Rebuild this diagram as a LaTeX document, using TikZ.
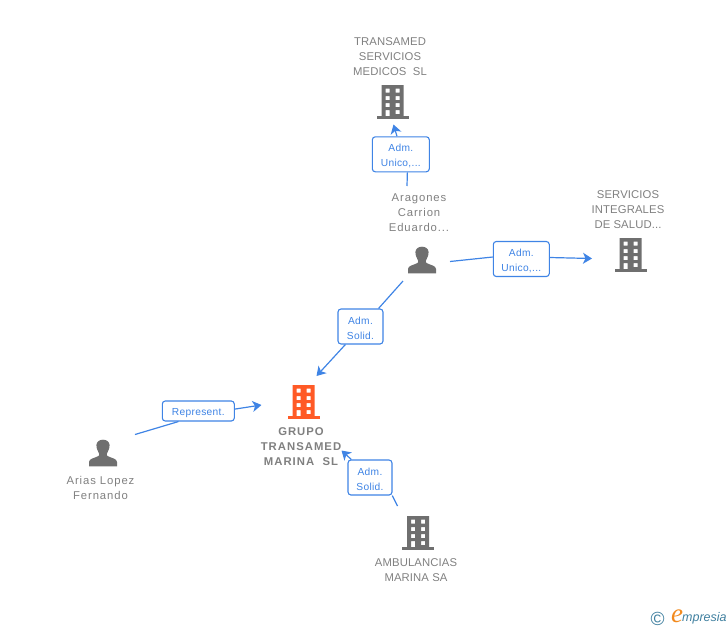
\documentclass[tikz,border=0pt]{standalone}
\usepackage{fontspec}
\setmainfont{Liberation Sans}
\newfontfamily\logoserif{Liberation Serif}
\newfontfamily\capsfont[LetterSpace=1]{Liberation Sans}
\newfontfamily\mixedfont[LetterSpace=8]{Liberation Sans}
\newfontfamily\boldcapsfont[LetterSpace=9]{Liberation Sans}
\newfontfamily\rolefont[LetterSpace=3]{Liberation Sans}
\usetikzlibrary{arrows.meta,positioning}

\definecolor{lineblue}{HTML}{3F84E5}
\definecolor{textgray}{HTML}{808080}
\definecolor{icongray}{HTML}{6F6F6F}
\definecolor{mainorange}{HTML}{FF5A26}
\definecolor{logoblue}{HTML}{3F7F9F}
\definecolor{logoorange}{HTML}{F28A1E}

\newcommand{\roletop}{\rule{0pt}{11pt}}

\tikzset{
  entity/.style={text=textgray,align=center,inner sep=0pt,font=\fontsize{11.3}{15}\capsfont\selectfont},
  entitymixed/.style={entity,font=\fontsize{11.3}{15}\mixedfont\selectfont},
  relbox/.style={draw=lineblue,fill=white,rounded corners=3pt,line width=1.1pt,text=lineblue,align=center,
    inner sep=0pt,minimum width=#1,minimum height=35pt,font=\fontsize{10.2}{15}\rolefont\selectfont},
  rel/.style={draw=lineblue,line width=1.2pt},
  relarrow/.style={rel,-{Stealth[length=9pt,width=11pt,inset=2.5pt]}},
  building/.pic={
    \path[pic actions,even odd rule]
      (-11,-17) rectangle (11,15)
      (-7,-13.4) rectangle (-2.8,-9.4)
      (3,-13.4) rectangle (7.2,-9.4)
      (-7,-6) rectangle (-2.8,-2)
      (3,-6) rectangle (7.2,-2)
      (-7,1.2) rectangle (-2.8,5.2)
      (3,1.2) rectangle (7.2,5.2)
      (-7,8.2) rectangle (-2.8,15)
      (3,8.2) rectangle (7.2,12);
    \path[pic actions] (-16,14) rectangle (16,17);
  },
  person/.pic={
    \path[pic actions]
      (-14,13.3) -- (-14,9) .. controls (-14,5.5) and (-8,5) .. (-4.5,3)
      .. controls (-3.5,2.2) and (-3.5,1) .. (-4.2,0)
      .. controls (-6,-3) and (-6.8,-6) .. (-6.6,-8)
      .. controls (-6.4,-11.5) and (-3.2,-13.3) .. (0,-13.3)
      .. controls (3.2,-13.3) and (6.4,-11.5) .. (6.6,-8)
      .. controls (6.8,-6) and (6,-3) .. (4.2,0)
      .. controls (3.5,1) and (3.5,2.2) .. (4.5,3)
      .. controls (8,5) and (14,5.5) .. (14,9)
      -- (14,13.3) -- cycle;
  }
}

\begin{document}
\begin{tikzpicture}[x=1pt,y=-1pt]
\useasboundingbox (0,0) rectangle (728,630);

% companies and people
\pic[fill=icongray] (bldTransamed) at (392.5,102) {building};
\pic[fill=icongray] (bldServicios) at (630.5,255) {building};
\pic[fill=mainorange] (bldGrupo) at (303.5,402) {building};
\pic[fill=icongray] (bldAmbulancias) at (418,533) {building};
\pic[fill=icongray] (perAragones) at (422,260) {person};
\pic[fill=icongray] (perArias) at (103,453) {person};

\node[entity] (txtTransamed) at (390,57) {TRANSAMED\\SERVICIOS\\MEDICOS\ \ SL};
\node[entity] (txtServicios) at (628,210) {SERVICIOS\\INTEGRALES\\DE SALUD...};
\node[entitymixed] (txtAragones) at (419,213) {Aragones\\Carrion\\Eduardo...};
\node[entity,font=\fontsize{11.3}{15}\boldcapsfont\bfseries] (txtGrupo) at (301,447) {GRUPO\\TRANSAMED\\MARINA\ \ SL};
\node[entitymixed] (txtArias) at (100.5,488) {Arias Lopez\\Fernando};
\node[entity] (txtAmbulancias) at (416,570) {AMBULANCIAS\\MARINA SA};

% role boxes
\node[relbox=57pt] (boxTransamed) at (400.8,154.3) {\roletop Adm.\\Unico,...};
\node[relbox=56pt] (boxServicios) at (521.3,259) {\roletop Adm.\\Unico,...};
\node[relbox=45pt] (boxGrupo) at (360.5,326.5) {\roletop Adm.\\Solid.};
\node[relbox=72pt,minimum height=20pt] (boxArias) at (198.3,411) {\roletop Represent.};
\node[relbox=44pt] (boxAmbulancias) at (370,477.5) {\roletop Adm.\\Solid.};

% free ends of the connectors
\coordinate (fromAragonesUp) at (407,186);
\coordinate (toTransamed) at (393.5,124.5);
\coordinate (fromAragonesRight) at (450,261.5);
\coordinate (toServicios) at (592,258.5);
\coordinate (fromAragonesDown) at (403,281);
\coordinate (toGrupoTop) at (316.5,376);
\coordinate (fromArias) at (135,434.5);
\coordinate (toGrupoLeft) at (261.5,405);
\coordinate (fromAmbulancias) at (397.5,506);
\coordinate (toGrupoRight) at (341.5,450.5);

\draw[rel] (fromAragonesUp) -- (boxTransamed.-70);
\draw[relarrow] (boxTransamed.102) -- (toTransamed);
\draw[rel] (fromAragonesRight) -- (boxServicios.176);
\draw[relarrow] (boxServicios.3) -- (toServicios);
\draw[rel] (fromAragonesDown) -- (boxGrupo.45.6);
\draw[relarrow] (boxGrupo.230) -- (toGrupoTop);
\draw[rel] (fromArias) -- (boxArias.208);
\draw[relarrow] (boxArias.3) -- (toGrupoLeft);
\draw[rel] (fromAmbulancias) -- (boxAmbulancias.321);
\draw[relarrow] (boxAmbulancias.136) -- (toGrupoRight);

% logo
\node[text=logoblue,inner sep=0pt,font=\fontsize{19}{19}\selectfont] (logoCopy) at (657.5,618.5) {©};
\node[text=logoorange,inner sep=0pt,font=\fontsize{27}{27}\selectfont\logoserif\itshape] (logoE) at (677,616) {e};
\node[text=logoblue,inner sep=0pt,anchor=west,font=\fontsize{12.5}{12}\selectfont\itshape] (logoName) at (682,618.5) {mpresia};
\end{tikzpicture}
\end{document}
